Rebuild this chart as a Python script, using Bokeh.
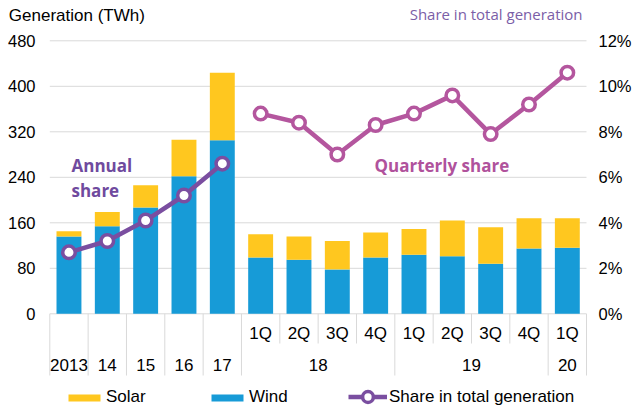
from bokeh.plotting import figure
from bokeh.models import (Range1d, Legend, LegendItem, Label, ColumnDataSource)
from bokeh.core.properties import value
from bokeh.embed import file_html
from bokeh.resources import INLINE

# ---------------- data ----------------
annual_labels = ["2013", "14", "15", "16", "17"]
quarter_labels = ["1Q", "2Q", "3Q", "4Q", "1Q", "2Q", "3Q", "4Q", "1Q"]
quarter_years = ["18", "18", "18", "18", "19", "19", "19", "19", "20"]
wind = [136, 154, 187, 242, 305, 99, 95, 78, 99, 104, 101, 88, 115, 116]
solar = [9, 25, 39, 64, 119, 41, 41, 50, 44, 45, 63, 64, 53, 52]
annual_share = [2.7, 3.2, 4.1, 5.2, 6.6]
quarterly_share = [8.8, 8.4, 7.0, 8.3, 8.8, 9.6, 7.9, 9.2, 10.6]
gen_ticks = [0, 80, 160, 240, 320, 400, 480]
share_ticks = [0, 2, 4, 6, 8, 10, 12]

# ---------------- layout (pixels) ----------------
W, H = 640, 412
FRAME_L, FRAME_R = 49.3, 586.0      # plotting area left / right
Y0_PX, YTOP_PX = 313.3, 40.3        # pixel rows of 0 and of the top tick
Y_MAX = gen_ticks[-1]
SHARE_MAX = share_ticks[-1]
n = len(wind)
PPU = (Y0_PX - YTOP_PX) / Y_MAX
PPX = (FRAME_R - FRAME_L) / n
Y_LO = -(H - Y0_PX) / PPU
Y_HI = Y_MAX + YTOP_PX / PPU
X_LO = -0.5 - FRAME_L / PPX
X_HI = n - 0.5 + (W - FRAME_R) / PPX


def ydat(page_y):
    return (Y0_PX - page_y) / PPU


def xdat(page_x):
    return X_LO + page_x / PPX


BLUE = "#179BD7"
YELLOW = "#FFC71F"
PURPLE = "#7A4EA0"
PINK = "#B4569E"
GRID = "#D9D9D9"
FONT = "Liberation Sans"

xs = list(range(n))
src = ColumnDataSource(dict(x=xs, wind=wind, solar=solar))

p = figure(width=W, height=H, output_backend="svg", toolbar_location=None,
           x_range=Range1d(X_LO, X_HI), y_range=Range1d(Y_LO, Y_HI),
           x_axis_location=None, y_axis_location=None,
           min_border=0, min_border_left=0, min_border_right=0,
           min_border_top=0, min_border_bottom=0)
p.outline_line_color = None
p.grid.visible = False
p.extra_y_ranges = {"share": Range1d(Y_LO * SHARE_MAX / Y_MAX, Y_HI * SHARE_MAX / Y_MAX)}

# gridlines and tick labels (from the tick arrays, through the scales)
p.segment(x0=[-0.5] * len(gen_ticks), y0=gen_ticks, x1=[n - 0.5] * len(gen_ticks),
          y1=gen_ticks, line_color=GRID, line_width=1)
p.text(x=[xdat(35)] * len(gen_ticks), y=gen_ticks, text=[str(t) for t in gen_ticks],
       text_align="right", text_baseline="middle", text_font=value(FONT),
       text_font_size="16.5px", text_color="#000000")
p.text(x=[xdat(598)] * len(share_ticks), y=share_ticks, y_range_name="share",
       text=[f"{t}%" for t in share_ticks],
       text_align="left", text_baseline="middle", text_font=value(FONT),
       text_font_size="16.5px", text_color="#000000")

# bars
bars = p.vbar_stack(["wind", "solar"], x="x", width=0.65, source=src,
                    color=[BLUE, YELLOW], line_color=None)
r_wind, r_solar = bars

# share lines
xa = xs[:len(annual_share)]
xq = xs[len(annual_share):]
la = p.line(xa, annual_share, y_range_name="share", line_color=PURPLE, line_width=4.5)
sa = p.scatter(xa, annual_share, y_range_name="share", marker="circle", size=12.5,
               fill_color="white", line_color=PURPLE, line_width=3.5)
lq = p.line(xq, quarterly_share, y_range_name="share", line_color=PINK, line_width=4.5)
sq = p.scatter(xq, quarterly_share, y_range_name="share", marker="circle", size=12.5,
               fill_color="white", line_color=PINK, line_width=3.5)

# category axis (two levels)
groups = annual_labels + quarter_years
full_bottom = ydat(375)
short_bottom = ydat(343)
sep_x, sep_y1 = [], []
for i in range(n + 1):
    full = i == 0 or i == n or groups[i - 1] != groups[i]
    sep_x.append(i - 0.5)
    sep_y1.append(full_bottom if full else short_bottom)
p.segment(x0=sep_x, y0=[0] * len(sep_x), x1=sep_x, y1=sep_y1,
          line_color=GRID, line_width=1)

p.text(x=xq, y=[ydat(333)] * len(xq), text=quarter_labels,
       text_align="center", text_baseline="middle", text_font=value(FONT),
       text_font_size="17px", text_color="#000000")

yl_x, yl_t = list(xa), list(annual_labels)
for g in dict.fromkeys(quarter_years):
    idx = [xq[k] for k, y in enumerate(quarter_years) if y == g]
    yl_x.append(sum(idx) / len(idx))
    yl_t.append(g)
p.text(x=yl_x, y=[ydat(364)] * len(yl_x), text=yl_t,
       text_align="center", text_baseline="middle", text_font=value(FONT),
       text_font_size="17px", text_color="#000000")

# texts
p.add_layout(Label(x=xdat(8.3), y=ydat(15), text="Generation (TWh)",
                   text_align="left", text_baseline="middle", text_font=FONT,
                   text_font_size="17px", text_color="#000000"))
p.add_layout(Label(x=xdat(582), y=ydat(13.5), text="Share in total generation",
                   text_align="right", text_baseline="middle", text_font="Open Sans",
                   text_font_size="15px", text_color="#7B5EA7"))
for t, py in (("Annual", 165), ("share", 190)):
    p.add_layout(Label(x=xdat(71), y=ydat(py), text=t, text_align="left",
                       text_baseline="middle", text_font="Open Sans",
                       text_font_style="bold", text_font_size="17px",
                       text_color="#6F4A9E"))
p.add_layout(Label(x=xdat(374), y=ydat(165), text="Quarterly share", text_align="left",
                   text_baseline="middle", text_font="Open Sans",
                   text_font_style="bold", text_font_size="17px", text_color="#B0529C"))


# legends
def make_legend(label, renderers, loc, gw, gh):
    lg = Legend(items=[LegendItem(label=label, renderers=renderers)],
                location=loc, orientation="horizontal",
                glyph_width=gw, glyph_height=gh, label_height=gh,
                label_standoff=2, padding=0, margin=0, spacing=0,
                border_line_color=None, background_fill_alpha=0,
                label_text_font=FONT, label_text_font_size="17px",
                label_text_color="#000000")
    p.add_layout(lg, "center")


make_legend("Solar", [r_solar], (64, 5), 40, 9)
make_legend("Wind", [r_wind], (207, 5), 40, 9)
make_legend("Share in total generation", [la, sa], (348, 2), 39, 27)

open("out.html", "w").write(file_html(p, INLINE))
